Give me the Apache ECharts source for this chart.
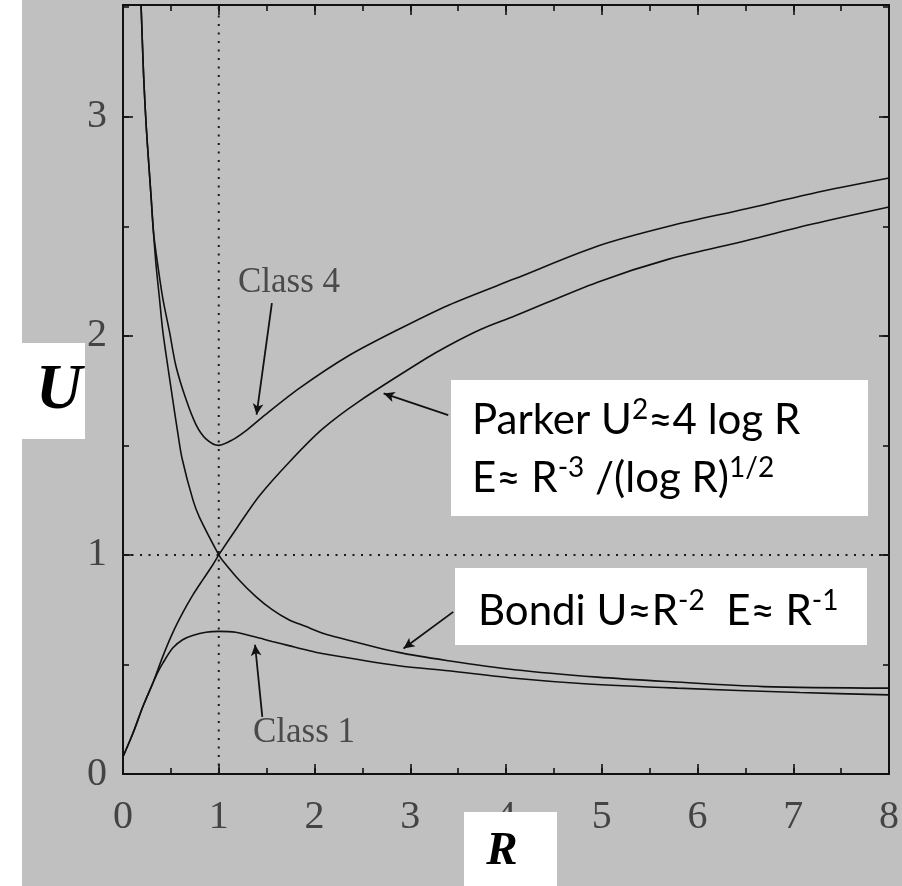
<!DOCTYPE html>
<html><head><meta charset="utf-8">
<script src="https://cdn.jsdelivr.net/npm/echarts@6/dist/echarts.min.js"></script>
<style>html,body{margin:0;padding:0;background:#c0c0c0}#c{width:902px;height:886px}</style>
</head><body><div id="c"></div>
<script>
// ---- data ----
const xTickLabels = ['0','1','2','3','4','5','6','7','8'];
const yTickLabels = ['0','1','2','3'];
const classFour = [[0.186,3.53],[0.191,3.48],[0.215,3.19],[0.242,2.96],[0.270,2.78],[0.294,2.63],[0.319,2.47],[0.364,2.32],[0.416,2.17],[0.485,2.02],[0.554,1.86],[0.658,1.71],[0.762,1.595],[0.866,1.53],[1.0,1.50],[1.143,1.525],[1.30,1.572],[1.45,1.627],[1.84,1.76],[2.36,1.91],[2.88,2.03],[3.40,2.14],[4.09,2.26],[4.96,2.41],[5.70,2.50],[6.51,2.58],[7.20,2.65],[8.0,2.72]];
const bondi = [[0.186,3.53],[0.191,3.48],[0.215,3.19],[0.242,2.96],[0.270,2.78],[0.294,2.63],[0.319,2.47],[0.346,2.32],[0.381,2.17],[0.416,2.02],[0.468,1.86],[0.519,1.71],[0.571,1.56],[0.617,1.44],[0.731,1.25],[0.80,1.17],[1.0,1.0],[1.04,0.975],[1.21,0.887],[1.385,0.811],[1.558,0.75],[1.732,0.704],[1.905,0.674],[2.078,0.644],[2.185,0.63],[2.878,0.555],[3.397,0.517],[4.09,0.476],[4.956,0.442],[5.683,0.422],[6.688,0.399],[8.0,0.392]];
const parker = [[0,0.079],[0.104,0.186],[0.208,0.308],[0.312,0.415],[0.416,0.537],[0.519,0.644],[0.623,0.735],[0.727,0.815],[0.831,0.885],[0.935,0.953],[1.0,1.0],[1.2,1.13],[1.423,1.269],[1.75,1.43],[2.081,1.574],[2.462,1.70],[3.155,1.894],[3.397,1.955],[3.74,2.03],[4.09,2.09],[4.956,2.245],[5.7,2.35],[6.514,2.435],[7.2,2.51],[8.0,2.588]];
const classOne = [[0,0.079],[0.104,0.186],[0.208,0.308],[0.312,0.415],[0.36,0.462],[0.416,0.506],[0.519,0.575],[0.623,0.613],[0.727,0.632],[0.866,0.647],[1.0,0.651],[1.177,0.647],[1.385,0.625],[1.558,0.605],[1.732,0.586],[1.905,0.567],[2.078,0.550],[2.878,0.494],[3.397,0.471],[4.09,0.437],[4.818,0.412],[5.787,0.392],[7.068,0.372],[8.0,0.361]];
const sonicRadius = [[1,0],[1,3.51]];
const sonicSpeed = [[0,1],[8,1]];
const arrowClassFour = [[1.555,2.149],[1.395,1.64]];
const arrowClassOne = [[1.455,0.261],[1.379,0.59]];
const arrowParker = [[3.397,1.638],[2.722,1.737]];
const arrowBondi = [[3.449,0.740],[2.930,0.573]];
const xRange = [0, 8];
const yRange = [0, 3.51];

// ---- chart ----
const chart = echarts.init(document.getElementById('c'), null, {renderer:'canvas'});
const INK = '#111';
const tickFont = {fontFamily:'"Liberation Serif", serif', fontSize:40, color:'#444'};
function xAx(pos, interval, len, labels){
  return {type:'value', position:pos, min:xRange[0], max:xRange[1], interval:interval,
    axisLine:{show:false, onZero:false}, splitLine:{show:false},
    axisTick:{show:true, inside:true, length:len, lineStyle:{color:INK, width:1.6}},
    axisLabel: labels ? Object.assign({show:true, margin:23, formatter:v=>xTickLabels[v]!==undefined&&Number.isInteger(v)?xTickLabels[v]:''}, tickFont) : {show:false}};
}
function yAx(pos, interval, len, labels){
  return {type:'value', position:pos, min:yRange[0], max:yRange[1], interval:interval,
    axisLine:{show:false, onZero:false}, splitLine:{show:false},
    axisTick:{show:true, inside:true, length:len, lineStyle:{color:INK, width:1.6}},
    axisLabel: labels ? Object.assign({show:true, margin:16, showMaxLabel:false, padding:[7,0,0,0], formatter:v=>Number.isInteger(v)&&yTickLabels[v]!==undefined?yTickLabels[v]:''}, tickFont) : {show:false}};
}
function curve(data){
  return {type:'line', data:data, xAxisIndex:0, yAxisIndex:0, showSymbol:false, symbol:'none', smooth:0.3,
    lineStyle:{color:INK, width:1.6}, silent:true, clip:true, z:3};
}
function guide(data){
  return {type:'line', data:data, xAxisIndex:0, yAxisIndex:0, showSymbol:false, symbol:'none',
    lineStyle:{color:'#1a1a1a', width:2, type:[2,6.5]}, silent:true, z:2};
}
const richText = {
  n:{fontFamily:'Lato', fontSize:42, lineHeight:58, fill:'#000'},
  s:{fontFamily:'Lato', fontSize:28, height:37, lineHeight:37, verticalAlign:'top', fill:'#000'}
};
chart.setOption({
  backgroundColor:'#c0c0c0',
  animation:false,
  grid:{left:123, right:9, top:5, bottom:112, show:true, borderColor:INK, borderWidth:2, backgroundColor:'transparent'},
  xAxis:[xAx('bottom',1,10,true), xAx('bottom',0.5,6,false), xAx('top',1,10,false), xAx('top',0.5,6,false)],
  yAxis:[yAx('left',1,10,true), yAx('left',0.5,6,false), yAx('right',1,10,false), yAx('right',0.5,6,false)],
  series:[
    guide(sonicRadius), guide(sonicSpeed),
    curve(classFour), curve(bondi), curve(parker), curve(classOne),
    {type:'line', data:[], xAxisIndex:0, yAxisIndex:0, silent:true,
      markLine:{silent:true, symbol:['none','arrow'], symbolSize:[8,11], animation:false,
        lineStyle:{color:INK, width:1.8, type:'solid'}, label:{show:false},
        data:[
          [{coord:arrowClassFour[0]},{coord:arrowClassFour[1]}],
          [{coord:arrowClassOne[0]},{coord:arrowClassOne[1]}],
          [{coord:arrowParker[0]},{coord:arrowParker[1]}],
          [{coord:arrowBondi[0]},{coord:arrowBondi[1]}]
        ]}}
  ],
  graphic:[
    {type:'rect', z:100, shape:{x:0,y:0,width:22,height:886}, style:{fill:'#fff'}},
    {type:'rect', z:100, shape:{x:22,y:343,width:63,height:96}, style:{fill:'#fff'}},
    {type:'text', z:101, x:59, y:391, style:{text:'U', font:'italic bold 64px "Liberation Serif"', fill:'#000', align:'center', verticalAlign:'middle'}},
    {type:'rect', z:100, shape:{x:464,y:812,width:93,height:74}, style:{fill:'#fff'}},
    {type:'text', z:101, x:502, y:852, style:{text:'R', font:'italic bold 47px "Liberation Serif"', fill:'#000', align:'center', verticalAlign:'middle'}},
    {type:'rect', z:100, shape:{x:451,y:380,width:417,height:136}, style:{fill:'#fff'}},
    {type:'text', z:101, x:472, y:391, style:{
      text:'{n|Parker U}{s|2}{n|≈4 log R}\n{n|E≈ R}{s|-3}{n| /(log R)}{s|1/2}',
      align:'left', verticalAlign:'top', fill:'#000', rich:richText}},
    {type:'rect', z:100, shape:{x:455,y:568,width:412,height:77}, style:{fill:'#fff'}},
    {type:'text', z:101, x:478, y:582, style:{
      text:'{n|Bondi U≈R}{s|-2}{n|  E≈ R}{s|-1}',
      align:'left', verticalAlign:'top', fill:'#000', rich:richText}},
    {type:'text', z:101, x:238, y:283, style:{text:'Class 4', font:'35px "Liberation Serif"', fill:'#4a4a4a', align:'left', verticalAlign:'middle'}},
    {type:'text', z:101, x:253, y:733, style:{text:'Class 1', font:'35px "Liberation Serif"', fill:'#4a4a4a', align:'left', verticalAlign:'middle'}}
  ]
});
</script></body></html>
